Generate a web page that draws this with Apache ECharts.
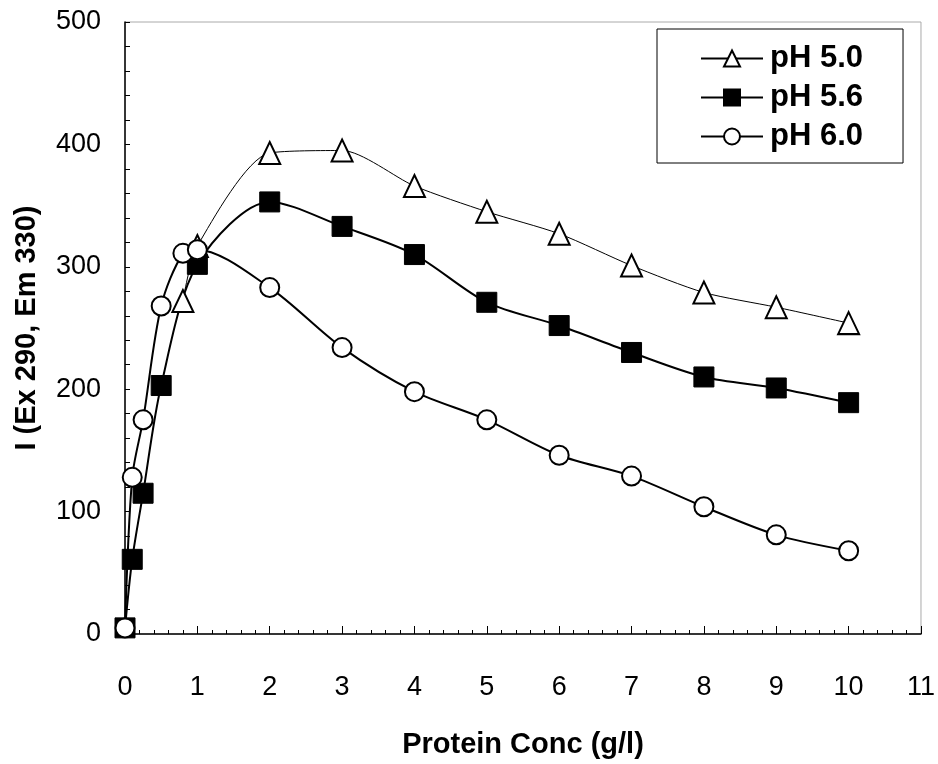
<!DOCTYPE html>
<html>
<head>
<meta charset="utf-8">
<script src="https://cdn.jsdelivr.net/npm/echarts@6/dist/echarts.min.js"></script>
<style>
html,body{margin:0;padding:0;background:#fff;}
#chart{width:938px;height:764px;}
</style>
</head>
<body>
<div id="chart"></div>
<script>
// Data
const seriesNames = ['pH 5.0', 'pH 5.6', 'pH 6.0'];
const xPH50 = [0.8, 1, 2, 3, 4, 5, 6, 7, 8, 9, 10];
const yPH50 = [272, 317, 393, 395, 366, 345, 327, 301, 279, 267, 254];
const xPH56 = [0, 0.1, 0.25, 0.5, 1, 2, 3, 4, 5, 6, 7, 8, 9, 10];
const yPH56 = [5, 61, 115, 203, 302, 353, 333, 310, 271, 252, 230, 210, 201, 189];
const xPH60 = [0, 0.1, 0.25, 0.5, 0.8, 1, 2, 3, 4, 5, 6, 7, 8, 9, 10];
const yPH60 = [5, 128, 175, 268, 311, 314, 283, 234, 198, 175, 146, 129, 104, 81, 68];
const xTicks = [0, 1, 2, 3, 4, 5, 6, 7, 8, 9, 10, 11];
const yTicks = [0, 100, 200, 300, 400, 500];

function pairs(xs, ys) { return xs.map((x, i) => [x, ys[i]]); }

const FONT = '"Liberation Sans", Arial, sans-serif';
const chart = echarts.init(document.getElementById('chart'), null, {renderer: 'canvas'});

chart.setOption({
  animation: false,
  backgroundColor: '#fff',
  grid: {
    left: 125, right: 16, top: 22, bottom: 123,
    show: true, borderColor: '#aaa', borderWidth: 1, backgroundColor: 'transparent'
  },
  legend: {
    orient: 'vertical',
    left: 657, top: 29,
    padding: [14, 40, 11, 43],
    itemGap: 8,
    itemWidth: 62, itemHeight: 20,
    borderColor: '#000', borderWidth: 1,
    backgroundColor: '#fff',
    textStyle: {fontFamily: FONT, fontWeight: 'bold', fontSize: 31, color: '#000', padding: [0, 0, 0, 2]},
    data: seriesNames
  },
  xAxis: {
    type: 'value',
    min: xTicks[0], max: xTicks[xTicks.length - 1], interval: 1,
    name: 'Protein Conc (g/l)',
    nameLocation: 'middle', nameGap: 96,
    nameTextStyle: {fontFamily: FONT, fontWeight: 'bold', fontSize: 29, color: '#000'},
    axisLine: {show: true, onZero: false, lineStyle: {color: '#000', width: 1.5}},
    axisTick: {show: true, inside: true, length: 8, lineStyle: {color: '#000', width: 1}},
    minorTick: {show: true, splitNumber: 5, length: 4, lineStyle: {color: '#000', width: 1}},
    axisLabel: {fontFamily: FONT, fontSize: 27, color: '#000', margin: 40},
    splitLine: {show: false}
  },
  yAxis: {
    type: 'value',
    min: yTicks[0], max: yTicks[yTicks.length - 1], interval: 100,
    name: 'I (Ex 290, Em 330)',
    nameLocation: 'middle', nameGap: 84,
    nameTextStyle: {fontFamily: FONT, fontWeight: 'bold', fontSize: 29, color: '#000'},
    axisLine: {show: true, onZero: false, lineStyle: {color: '#000', width: 1.5}},
    axisTick: {show: true, inside: true, length: 5, lineStyle: {color: '#000', width: 1}},
    minorTick: {show: true, splitNumber: 5, length: 5, lineStyle: {color: '#000', width: 1}},
    axisLabel: {fontFamily: FONT, fontSize: 27, color: '#000', margin: 24},
    splitLine: {show: false}
  },
  series: [
    {
      name: seriesNames[0], type: 'line', smooth: 0.25,
      data: pairs(xPH50, yPH50),
      symbol: 'triangle', symbolSize: [21, 22],
      lineStyle: {color: '#000', width: 1},
      itemStyle: {color: '#fff', borderColor: '#000', borderWidth: 2}
    },
    {
      name: seriesNames[1], type: 'line', smooth: 0.3,
      data: pairs(xPH56, yPH56),
      symbol: 'rect', symbolSize: 20,
      lineStyle: {color: '#000', width: 2},
      itemStyle: {color: '#000', borderColor: '#000', borderWidth: 1}
    },
    {
      name: seriesNames[2], type: 'line', smooth: 0.3,
      data: pairs(xPH60, yPH60),
      symbol: 'circle', symbolSize: 19,
      lineStyle: {color: '#000', width: 2},
      itemStyle: {color: '#fff', borderColor: '#000', borderWidth: 2}
    }
  ]
});
</script>
</body>
</html>
